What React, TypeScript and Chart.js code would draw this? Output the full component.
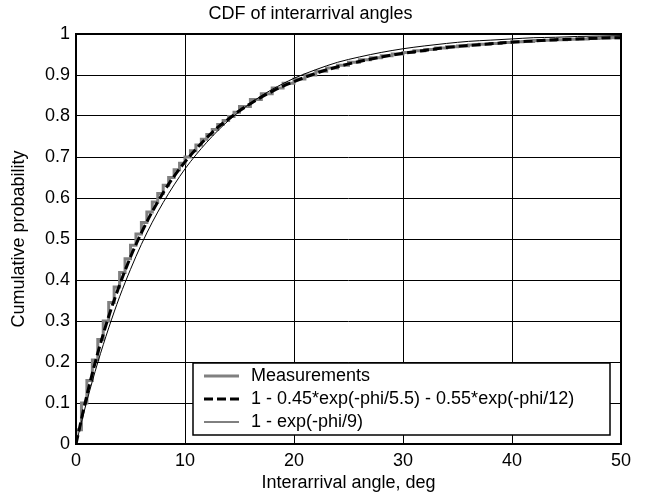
import { useEffect, useRef } from "react";
import { Chart, registerables } from "chart.js";

Chart.register(...registerables);

const chartTitle = "CDF of interarrival angles";
const xAxisTitle = "Interarrival angle, deg";
const yAxisTitle = "Cumulative probability";
const xTicks = [0, 10, 20, 30, 40, 50];
const yTicks = [0, 0.1, 0.2, 0.3, 0.4, 0.5, 0.6, 0.7, 0.8, 0.9, 1];
const seriesNames = [
  "Measurements",
  "1 - 0.45*exp(-phi/5.5) - 0.55*exp(-phi/12)",
  "1 - exp(-phi/9)",
];

const measAngles = [
  0, 0.5, 1, 1.5, 2, 2.5, 3, 3.5, 4, 4.5, 5, 5.5, 6, 6.5, 7, 7.5, 8, 8.5, 9, 9.5, 10,
  10.5, 11, 11.5, 12, 12.5, 13, 13.5, 14, 14.5, 15,
  16, 17, 18, 19, 20, 21, 22, 23, 24, 25, 26, 27, 28, 29, 30, 31, 32, 33,
  34, 35, 36, 37, 38, 39, 40, 41, 42, 43, 44, 45, 46, 47, 48, 49, 50,
];
const measCdf = [
  0, 0.035, 0.1, 0.155, 0.205, 0.255, 0.3, 0.345, 0.383, 0.418, 0.452,
  0.485, 0.512, 0.54, 0.566, 0.59, 0.611, 0.631, 0.65, 0.669, 0.685,
  0.7, 0.715, 0.729, 0.743, 0.755, 0.767, 0.779, 0.789, 0.799, 0.809,
  0.823, 0.84, 0.854, 0.868, 0.88, 0.89, 0.9, 0.909, 0.917, 0.924, 0.931, 0.937, 0.942,
  0.947, 0.951, 0.955, 0.959, 0.962, 0.966, 0.969, 0.971, 0.973, 0.975, 0.977,
  0.979, 0.981, 0.982, 0.984, 0.985, 0.986, 0.987, 0.988, 0.989, 0.99, 0.991,
];

const fitAngles = [
  0, 1, 2, 3, 4, 5, 6, 7, 8, 9, 10, 11, 12, 13, 14, 15, 16, 17, 18, 19, 20,
  22, 24, 26, 28, 30, 32, 34, 36, 38, 40, 42, 44, 46, 48, 50,
];
const fitTwoExp = [
  0, 0.119, 0.222, 0.311, 0.388, 0.456, 0.515, 0.567, 0.613, 0.653, 0.688,
  0.719, 0.747, 0.772, 0.793, 0.813, 0.83, 0.846, 0.86, 0.873, 0.884,
  0.904, 0.92, 0.933, 0.944, 0.953, 0.96, 0.967, 0.972, 0.976, 0.98, 0.983, 0.986, 0.988, 0.99, 0.991,
];
const fitOneExp = [
  0, 0.105, 0.199, 0.283, 0.359, 0.426, 0.487, 0.541, 0.589, 0.632, 0.671,
  0.705, 0.736, 0.764, 0.789, 0.811, 0.831, 0.849, 0.865, 0.879, 0.892,
  0.913, 0.931, 0.944, 0.955, 0.964, 0.971, 0.977, 0.982, 0.985, 0.988, 0.991, 0.992, 0.994, 0.995, 0.996,
];

const FONT_FAMILY = "'Liberation Sans', Arial, Helvetica, sans-serif";
const FONT_SIZE = 18;

const framePlugin = {
  id: "frameBox",
  afterDraw(chart: any) {
    const { ctx, chartArea } = chart;
    ctx.save();
    ctx.strokeStyle = "#000";
    ctx.lineWidth = 2;
    ctx.setLineDash([]);
    ctx.strokeRect(
      chartArea.left,
      chartArea.top,
      chartArea.right - chartArea.left,
      chartArea.bottom - chartArea.top
    );
    ctx.restore();
  },
};

const legendPlugin = {
  id: "boxLegend",
  afterDraw(chart: any) {
    const { ctx, chartArea } = chart;
    const boxLeft = chartArea.right - 428;
    const boxRight = chartArea.right - 11;
    const boxTop = chartArea.bottom - 81;
    const boxBottom = chartArea.bottom - 9;
    ctx.save();
    ctx.fillStyle = "#fff";
    ctx.fillRect(boxLeft, boxTop, boxRight - boxLeft, boxBottom - boxTop);
    ctx.strokeStyle = "#000";
    ctx.lineWidth = 1.5;
    ctx.setLineDash([]);
    ctx.strokeRect(boxLeft, boxTop, boxRight - boxLeft, boxBottom - boxTop);
    const rowOffsets = [13, 36, 59];
    chart.data.datasets.forEach((ds: any, i: number) => {
      const y = boxTop + rowOffsets[i];
      ctx.beginPath();
      ctx.strokeStyle = ds.borderColor;
      ctx.lineWidth = ds.borderWidth;
      ctx.setLineDash(ds.borderDash || []);
      ctx.moveTo(boxLeft + 11, y);
      ctx.lineTo(boxLeft + 46, y);
      ctx.stroke();
      ctx.setLineDash([]);
      ctx.fillStyle = "#000";
      ctx.font = `${FONT_SIZE}px ${FONT_FAMILY}`;
      ctx.textAlign = "left";
      ctx.textBaseline = "middle";
      ctx.fillText(ds.label, boxLeft + 58, y);
    });
    ctx.restore();
  },
};

export default function App() {
  const canvasRef = useRef<HTMLCanvasElement | null>(null);

  useEffect(() => {
    const canvas = canvasRef.current;
    if (!canvas) return;
    const font = { family: FONT_FAMILY, size: FONT_SIZE, weight: "normal" as const, lineHeight: 1.2 };

    const chart = new Chart(canvas, {
      type: "line",
      data: {
        datasets: [
          {
            label: seriesNames[0],
            data: measAngles.map((x, i) => ({ x, y: measCdf[i] })),
            borderColor: "#808080",
            borderWidth: 3,
            stepped: "after",
            pointRadius: 0,
            fill: false,
            order: 3,
          },
          {
            label: seriesNames[1],
            data: fitAngles.map((x, i) => ({ x, y: fitTwoExp[i] })),
            borderColor: "#000",
            borderWidth: 3,
            borderDash: [9, 4],
            cubicInterpolationMode: "monotone",
            pointRadius: 0,
            fill: false,
            order: 1,
          },
          {
            label: seriesNames[2],
            data: fitAngles.map((x, i) => ({ x, y: fitOneExp[i] })),
            borderColor: "#000",
            borderWidth: 1,
            cubicInterpolationMode: "monotone",
            pointRadius: 0,
            fill: false,
            order: 2,
          },
        ] as any,
      },
      options: {
        responsive: false,
        animation: false,
        devicePixelRatio: 1,
        layout: { padding: { left: 0, right: 30, top: 0, bottom: 0 } },
        plugins: {
          legend: { display: false },
          tooltip: { enabled: false },
          title: {
            display: true,
            text: chartTitle,
            color: "#000",
            font,
            padding: { top: 3.7, bottom: 8.7 },
          },
        },
        scales: {
          x: {
            type: "linear",
            min: 0,
            max: 50,
            afterBuildTicks: (s: any) => {
              s.ticks = xTicks.map((v) => ({ value: v }));
            },
            afterFit: (s: any) => {
              s.height = 55;
            },
            grid: { color: "#000", lineWidth: 1, drawTicks: false },
            border: { display: false },
            ticks: {
              color: "#000",
              font,
              padding: 6,
              maxRotation: 0,
              autoSkip: false,
              callback: (v: any) => String(v),
            },
            title: {
              display: true,
              text: xAxisTitle,
              color: "#000",
              font,
              padding: { top: 0, bottom: 5.6 },
            },
          },
          y: {
            type: "linear",
            min: 0,
            max: 1,
            afterBuildTicks: (s: any) => {
              s.ticks = yTicks.map((v) => ({ value: v }));
            },
            afterFit: (s: any) => {
              s.width = 76;
            },
            grid: { color: "#000", lineWidth: 1, drawTicks: false },
            border: { display: false },
            ticks: {
              color: "#000",
              font,
              padding: 6,
              autoSkip: false,
              callback: (v: any) => String(Math.round(Number(v) * 10) / 10),
            },
            title: {
              display: true,
              text: yAxisTitle,
              color: "#000",
              font,
              padding: { top: 8, bottom: 0 },
            },
          },
        },
      } as any,
      plugins: [framePlugin, legendPlugin],
    });

    return () => {
      chart.destroy();
    };
  }, []);

  return (
    <div
      style={{
        position: "fixed",
        left: 0,
        top: 0,
        width: 651,
        height: 499,
        background: "#fff",
      }}
    >
      <canvas ref={canvasRef} width={651} height={499} style={{ display: "block" }} />
    </div>
  );
}
